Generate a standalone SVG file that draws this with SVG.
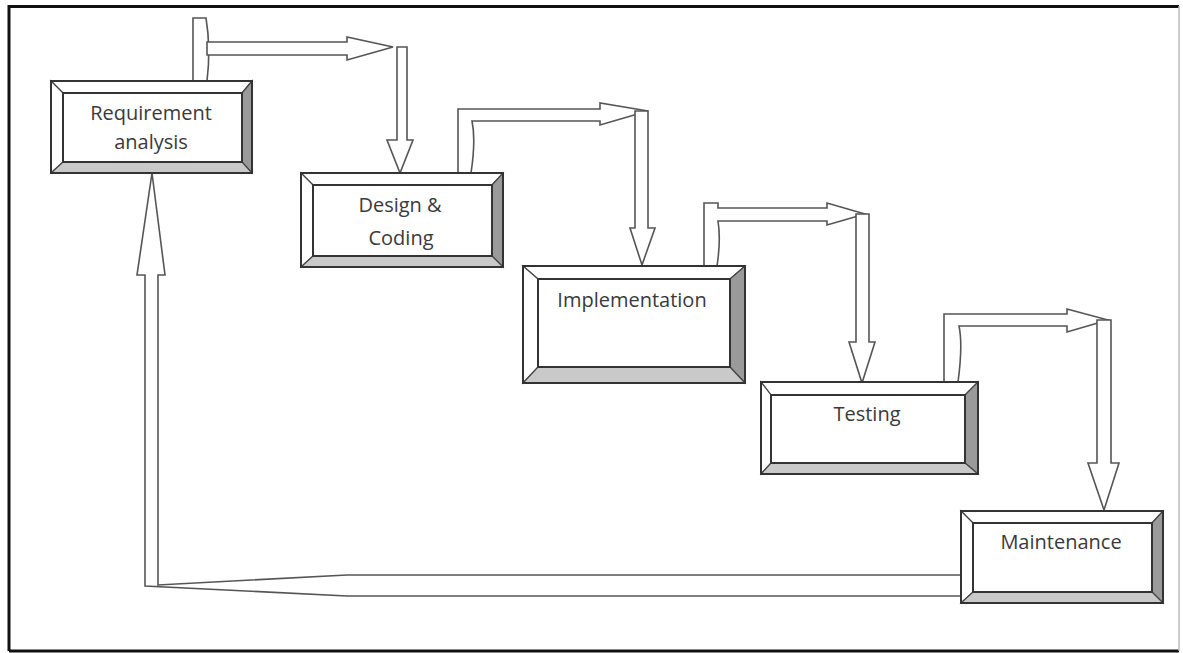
<svg xmlns="http://www.w3.org/2000/svg" width="1183" height="653" viewBox="0 0 1183 653">
<style>
.frame{stroke:#111;stroke-width:3;fill:none}
.arrow{fill:#fff;stroke:#555;stroke-width:1.6;stroke-linejoin:miter}
.edge{stroke:#333;stroke-width:2;fill:none}
.lit{fill:#fff;stroke:#444;stroke-width:1.2}
.shade1{fill:#c9c9c9;stroke:#444;stroke-width:1.2}
.shade2{fill:#9a9a9a;stroke:#444;stroke-width:1.2}
.label{font-family:"Open Sans","Noto Sans",sans-serif;font-size:20px;fill:#3a3a3a;text-anchor:middle}
</style>
<rect x="0" y="0" width="1183" height="653" fill="#fff"/>
<g id="frame">
<path class="frame" d="M9,651 V6.5 H1179"/>
<path class="frame" d="M9,651 H1179"/>
<line x1="1179" y1="6" x2="1179" y2="651" stroke="#bbb" stroke-width="1.5"/>
</g>
<g id="connectors">
<path class="arrow" d="M193,81 V18 H206 Q211,48 207,81 Z"/>
<path class="arrow" d="M207,42 H347 V37 L393,47 L347,60 V55 H207 Z"/>
<path class="arrow" d="M397,47 H407 V140 H413 L400,173 L387,140 H397 Z"/>
<path class="arrow" d="M458,173 V109 H600 V103 L648,111 L600,125 V121 H472 Q476,140 471,173 Z"/>
<path class="arrow" d="M635,111 H648 V228 H655 L642,265 L630,228 H635 Z"/>
<path class="arrow" d="M704,266 V203 H718 V208 H827 V203 L865,214 L827,225 V221 H718 Q721,240 717,266 Z"/>
<path class="arrow" d="M856,214 H869 V342 H875 L862,383 L849,342 H856 Z"/>
<path class="arrow" d="M944,382 V314 H1067 V309 L1108,320 L1067,332 V326 H959 Q963,345 958,382 Z"/>
<path class="arrow" d="M1097,320 H1111 V463 H1119 L1104,510 L1088,463 H1097 Z"/>
<path class="arrow" d="M961,575 H347 L158,585 V275 H165 L152,173 L137,275 H145 V586 L347,596 H961 Z"/>
</g>
<g id="requirement-analysis">
<polygon class="lit" points="51,81 252,81 242,93 63,93"/>
<polygon class="lit" points="51,81 63,93 63,162 51,173"/>
<polygon class="shade2" points="252,81 252,173 242,162 242,93"/>
<polygon class="shade1" points="51,173 252,173 242,162 63,162"/>
<rect class="edge" x="51" y="81" width="201" height="92"/>
<rect class="edge" x="63" y="93" width="179" height="69"/>
<text class="label" x="151" y="120">Requirement</text>
<text class="label" x="151" y="149">analysis</text>
</g>
<g id="design-coding">
<polygon class="lit" points="301,173 503,173 492,185 313,185"/>
<polygon class="lit" points="301,173 313,185 313,256 301,267"/>
<polygon class="shade2" points="503,173 503,267 492,256 492,185"/>
<polygon class="shade1" points="301,267 503,267 492,256 313,256"/>
<rect class="edge" x="301" y="173" width="202" height="94"/>
<rect class="edge" x="313" y="185" width="179" height="71"/>
<text class="label" x="400" y="212">Design &amp;</text>
<text class="label" x="401" y="245">Coding</text>
</g>
<g id="implementation">
<polygon class="lit" points="523,266 745,266 730,279 538,279"/>
<polygon class="lit" points="523,266 538,279 538,367 523,383"/>
<polygon class="shade2" points="745,266 745,383 730,367 730,279"/>
<polygon class="shade1" points="523,383 745,383 730,367 538,367"/>
<rect class="edge" x="523" y="266" width="222" height="117"/>
<rect class="edge" x="538" y="279" width="192" height="88"/>
<text class="label" x="632" y="307">Implementation</text>
</g>
<g id="testing">
<polygon class="lit" points="761,382 978,382 965,395 771,395"/>
<polygon class="lit" points="761,382 771,395 771,463 761,474"/>
<polygon class="shade2" points="978,382 978,474 965,463 965,395"/>
<polygon class="shade1" points="761,474 978,474 965,463 771,463"/>
<rect class="edge" x="761" y="382" width="217" height="92"/>
<rect class="edge" x="771" y="395" width="194" height="68"/>
<text class="label" x="867" y="421">Testing</text>
</g>
<g id="maintenance">
<polygon class="lit" points="961,511 1163,511 1152,523 973,523"/>
<polygon class="lit" points="961,511 973,523 973,592 961,603"/>
<polygon class="shade2" points="1163,511 1163,603 1152,592 1152,523"/>
<polygon class="shade1" points="961,603 1163,603 1152,592 973,592"/>
<rect class="edge" x="961" y="511" width="202" height="92"/>
<rect class="edge" x="973" y="523" width="179" height="69"/>
<text class="label" x="1061" y="549">Maintenance</text>
</g>
</svg>
